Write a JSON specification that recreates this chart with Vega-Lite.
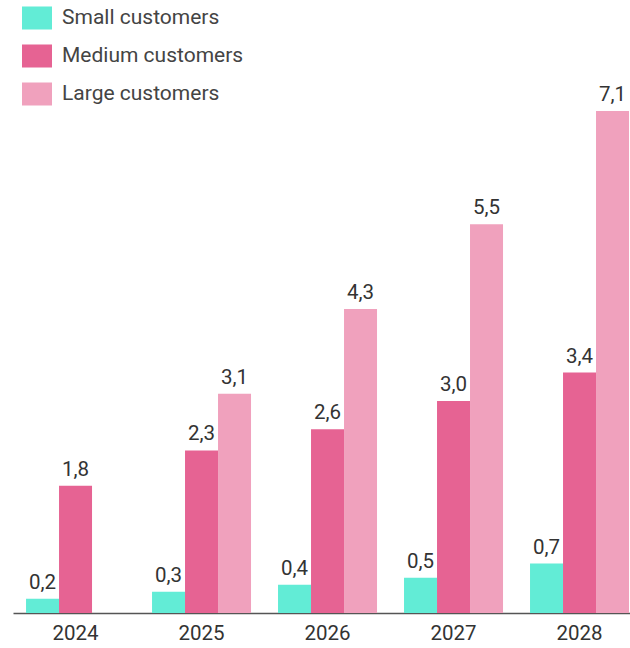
{
  "$schema": "https://vega.github.io/schema/vega-lite/v6.json",
  "width": 617,
  "height": 502,
  "autosize": {"type": "none"},
  "padding": {"left": 13, "top": 111, "right": 0, "bottom": 35},
  "config": {
    "locale": {"number": {"decimal": ",", "thousands": ".", "grouping": [3], "currency": ["", " €"]}},
    "view": {"stroke": null},
    "font": "Roboto"
  },
  "data": {
    "values": [
      {"year": "2024", "segment": "Small customers", "value": 0.2},
      {"year": "2024", "segment": "Medium customers", "value": 1.8},
      {"year": "2025", "segment": "Small customers", "value": 0.3},
      {"year": "2025", "segment": "Medium customers", "value": 2.3},
      {"year": "2025", "segment": "Large customers", "value": 3.1},
      {"year": "2026", "segment": "Small customers", "value": 0.4},
      {"year": "2026", "segment": "Medium customers", "value": 2.6},
      {"year": "2026", "segment": "Large customers", "value": 4.3},
      {"year": "2027", "segment": "Small customers", "value": 0.5},
      {"year": "2027", "segment": "Medium customers", "value": 3.0},
      {"year": "2027", "segment": "Large customers", "value": 5.5},
      {"year": "2028", "segment": "Small customers", "value": 0.7},
      {"year": "2028", "segment": "Medium customers", "value": 3.4},
      {"year": "2028", "segment": "Large customers", "value": 7.1}
    ]
  },
  "encoding": {
    "x": {
      "field": "year", "type": "nominal",
      "scale": {"paddingInner": 0.2143, "paddingOuter": 0.0556, "align": 0.93},
      "axis": {"title": null, "labelAngle": 0, "ticks": false, "labelFontSize": 20.5, "labelColor": "#333333", "labelPadding": 10, "domainColor": "#555555", "domainWidth": 1.5, "grid": false}
    },
    "xOffset": {
      "field": "segment", "type": "nominal",
      "scale": {"domain": ["Small customers", "Medium customers", "Large customers"], "paddingInner": 0, "paddingOuter": 0}
    },
    "y": {
      "field": "value", "type": "quantitative",
      "scale": {"domain": [0, 7.1], "nice": false},
      "axis": null
    }
  },
  "layer": [
    {
      "mark": {"type": "bar"},
      "encoding": {
        "color": {
          "field": "segment", "type": "nominal",
          "scale": {"domain": ["Small customers", "Medium customers", "Large customers"], "range": ["#62ecd6", "#e66393", "#f0a1bd"]},
          "legend": {
            "title": null, "orient": "none", "legendX": 9, "legendY": -108,
            "direction": "vertical",
            "symbolType": "M-1,-0.767L1,-0.767L1,0.767L-1,0.767Z",
            "symbolSize": 900, "symbolStrokeWidth": 0, "symbolOpacity": 1,
            "labelFontSize": 21, "labelColor": "#444444", "labelOffset": 10,
            "rowPadding": 11, "labelLimit": 400
          }
        }
      }
    },
    {
      "mark": {"type": "text", "dy": -10, "baseline": "alphabetic", "fontSize": 20.5, "color": "#333333"},
      "encoding": {
        "text": {"field": "value", "type": "quantitative", "format": ".1f"}
      }
    }
  ]
}
